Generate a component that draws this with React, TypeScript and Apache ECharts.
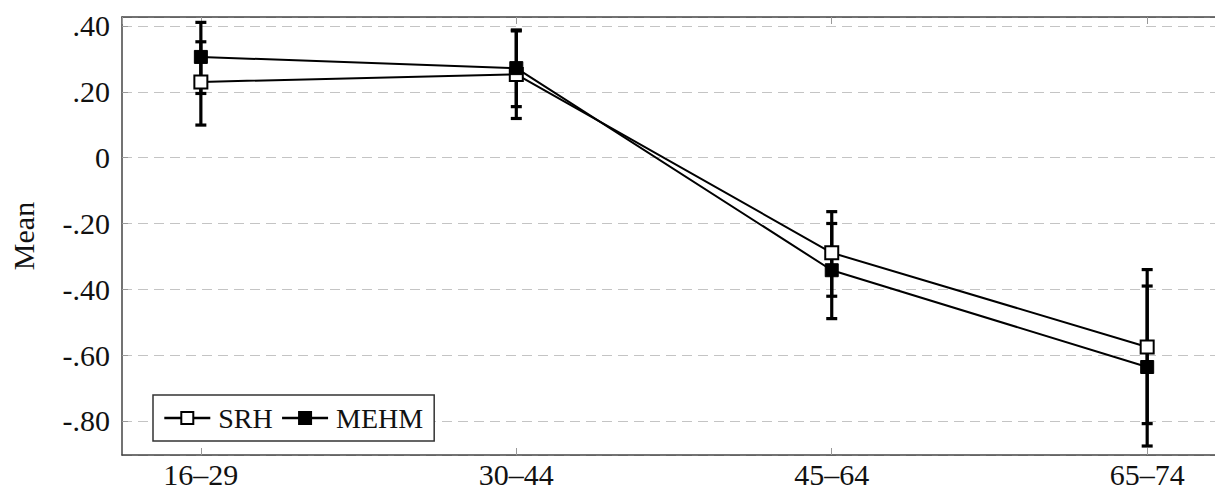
import React, { useEffect, useRef } from "react";
import * as echarts from "echarts";

const categories = ["16–29", "30–44", "45–64", "65–74"];
const srhMean = [0.23, 0.253, -0.289, -0.575];
const srhLow = [0.099, 0.119, -0.421, -0.808];
const srhHigh = [0.352, 0.385, -0.164, -0.34];
const mehmMean = [0.306, 0.272, -0.342, -0.636];
const mehmLow = [0.195, 0.155, -0.489, -0.876];
const mehmHigh = [0.411, 0.388, -0.2, -0.39];
const yTickValues = [0.4, 0.2, 0, -0.2, -0.4, -0.6, -0.8];
const yTickLabels = [".40", ".20", "0", "-.20", "-.40", "-.60", "-.80"];

const FONT = "'Liberation Serif', 'DejaVu Serif', serif";

export default function App() {
  const ref = useRef<HTMLDivElement>(null);
  useEffect(() => {
    if (!ref.current) return;
    const chart = echarts.init(ref.current, null, { renderer: "svg" });

    const fmtY = (v: number) => {
      for (let i = 0; i < yTickValues.length; i++) {
        if (Math.abs(v - yTickValues[i]) < 1e-6) return yTickLabels[i];
      }
      return "";
    };
    const fmtX = (v: number) => {
      const r = Math.round(v);
      if (Math.abs(v - r) < 1e-6 && r >= 0 && r < categories.length) return categories[r];
      return "";
    };

    const errData = (low: number[], high: number[]) =>
      categories.map((_, i) => [i, low[i], high[i]]);

    const renderErr = (params: any, api: any) => {
      const x = api.value(0);
      const lo = api.coord([x, api.value(1)]);
      const hi = api.coord([x, api.value(2)]);
      const hw = 5.5;
      const style = { stroke: "#000", lineWidth: 3.2 };
      return {
        type: "group",
        children: [
          { type: "line", shape: { x1: lo[0], y1: lo[1], x2: hi[0], y2: hi[1] }, style },
          { type: "line", shape: { x1: lo[0] - hw, y1: lo[1], x2: lo[0] + hw, y2: lo[1] }, style },
          { type: "line", shape: { x1: hi[0] - hw, y1: hi[1], x2: hi[0] + hw, y2: hi[1] }, style },
        ],
      };
    };

    const xMin = -0.25;
    const xMax = 3.215;

    chart.setOption({
      animation: false,
      backgroundColor: "#fff",
      textStyle: { fontFamily: FONT },
      grid: { left: 120, right: 0, top: 17, bottom: 35 },
      legend: {
        left: 153,
        top: 395,
        orient: "horizontal",
        itemWidth: 46,
        itemHeight: 15,
        itemGap: 8,
        padding: [9, 11, 9, 10],
        borderColor: "#333",
        borderWidth: 1.5,
        backgroundColor: "#fff",
        lineStyle: { width: 2.6, color: "#000" },
        textStyle: { fontFamily: FONT, fontSize: 28, color: "#111", padding: [0, 0, 0, 3] },
        data: ["SRH", "MEHM"],
      },
      xAxis: [
        {
          type: "value",
          min: xMin,
          max: xMax,
          minInterval: 1,
          maxInterval: 1,
          position: "bottom",
          axisLine: { show: true, onZero: false, lineStyle: { color: "#444", width: 1.5 } },
          axisTick: { show: true, inside: true, length: 7, lineStyle: { color: "#999", width: 1 } },
          axisLabel: { formatter: fmtX, fontFamily: FONT, fontSize: 30, color: "#111", margin: 4, showMinLabel: false, showMaxLabel: false },
          splitLine: { show: false },
        },
        {
          type: "value",
          min: xMin,
          max: xMax,
          minInterval: 1,
          maxInterval: 1,
          position: "top",
          axisLine: { show: true, onZero: false, lineStyle: { color: "#444", width: 1.5 } },
          axisTick: { show: true, inside: true, length: 7, lineStyle: { color: "#999", width: 1 } },
          axisLabel: { show: false },
          splitLine: { show: false },
        },
      ],
      yAxis: {
        type: "value",
        min: -0.9033,
        max: 0.4273,
        minInterval: 0.2,
        maxInterval: 0.2,
        name: "Mean",
        nameLocation: "middle",
        nameGap: 84,
        nameRotate: 90,
        nameTextStyle: { fontFamily: FONT, fontSize: 30, color: "#111" },
        axisLine: { show: true, onZero: false, lineStyle: { color: "#444", width: 1.5 } },
        axisTick: { show: true, inside: true, length: 6, lineStyle: { color: "#999", width: 1 } },
        axisLabel: { formatter: fmtY, fontFamily: FONT, fontSize: 30, color: "#111", margin: 12, showMinLabel: false, showMaxLabel: false },
        splitLine: { show: true, lineStyle: { color: "#c4c4c4", width: 1.2, type: [10, 6] } },
      },
      series: [
        {
          type: "custom",
          name: "errSRH",
          renderItem: renderErr,
          data: errData(srhLow, srhHigh),
          z: 1,
          silent: true,
        },
        {
          type: "custom",
          name: "errMEHM",
          renderItem: renderErr,
          data: errData(mehmLow, mehmHigh),
          z: 1,
          silent: true,
        },
        {
          type: "line",
          name: "SRH",
          data: srhMean.map((v, i) => [i, v]),
          symbol: "rect",
          symbolSize: 13,
          lineStyle: { color: "#000", width: 2 },
          itemStyle: { color: "#fff", borderColor: "#000", borderWidth: 2 },
          z: 3,
        },
        {
          type: "line",
          name: "MEHM",
          data: mehmMean.map((v, i) => [i, v]),
          symbol: "rect",
          symbolSize: 13,
          lineStyle: { color: "#000", width: 2 },
          itemStyle: { color: "#000", borderColor: "#000", borderWidth: 1 },
          z: 4,
        },
      ],
    });
    return () => chart.dispose();
  }, []);
  return (
    <div
      ref={ref}
      style={{ position: "absolute", left: 0, top: 0, width: 1215, height: 490 }}
    />
  );
}
